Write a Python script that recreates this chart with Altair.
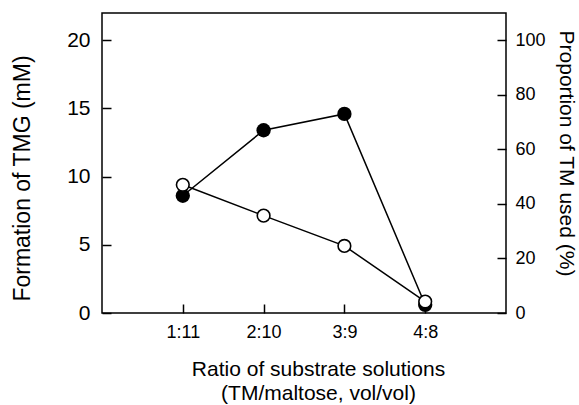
import altair as alt
import pandas as pd

ratios = ["1:11", "2:10", "3:9", "4:8"]
tmg_mM = [8.6, 13.4, 14.6, 0.6]
tm_used_pct = [47.0, 35.7, 24.6, 4.2]

pos = list(range(1, len(ratios) + 1))
df = pd.DataFrame({"pos": pos, "ratio": ratios, "tmg": tmg_mM, "prop": tm_used_pct})

label_expr = "[" + ",".join("'" + r + "'" for r in ratios) + "][datum.value - 1]"
FONT = "Liberation Sans"

x = alt.X(
    "pos:Q",
    scale=alt.Scale(domain=[0, 5], nice=False, zero=False),
    axis=alt.Axis(
        values=pos, labelExpr=label_expr, grid=False, domain=False,
        offset=-9, tickSize=9, tickWidth=1.5, tickColor="black",
        labelPadding=10, labelFontSize=18, labelFont=FONT, labelColor="black",
        title=["Ratio of substrate solutions", "(TM/maltose, vol/vol)"],
        titleFontSize=21, titleFont=FONT, titleFontWeight="normal", titleColor="black",
        titleX=216, titleY=54, titleLineHeight=24,
    ),
)

y_left = alt.Y(
    "tmg:Q",
    scale=alt.Scale(domain=[0, 22], nice=False),
    axis=alt.Axis(
        orient="left", values=[0, 5, 10, 15, 20], grid=False, domain=False,
        offset=-9, tickSize=9, tickWidth=1.5, tickColor="black",
        labelPadding=12, labelFontSize=21, labelFont=FONT, labelColor="black",
        title="Formation of TMG (mM)", titleFontSize=23, titleFont=FONT,
        titleFontWeight="normal", titleColor="black", titleX=-77, titleY=165,
    ),
)

y_right = alt.Y(
    "prop:Q",
    scale=alt.Scale(domain=[0, 110], nice=False),
    axis=alt.Axis(
        orient="right", values=[0, 20, 40, 60, 80, 100], grid=False, domain=False,
        offset=-9, tickSize=9, tickWidth=1.5, tickColor="black",
        labelPadding=9, labelFontSize=18, labelFont=FONT, labelColor="black",
        title="Proportion of TM used (%)", titleFontSize=21, titleFont=FONT,
        titleFontWeight="normal", titleColor="black", titleX=58, titleY=140,
    ),
)

base = alt.Chart(df)
filled_line = base.mark_line(color="black", strokeWidth=1.5).encode(x=x, y=y_left)
filled_pts = base.mark_point(filled=True, color="black", size=205, opacity=1).encode(x=x, y=y_left)
left = alt.layer(filled_line, filled_pts)

open_line = base.mark_line(color="black", strokeWidth=1.5).encode(x=x, y=y_right)
open_pts = base.mark_point(filled=True, fill="white", stroke="black", strokeWidth=1.6,
                           size=160, opacity=1).encode(x=x, y=y_right)
right = alt.layer(open_line, open_pts)

chart = (
    alt.layer(left, right)
    .resolve_scale(y="independent")
    .properties(
        width=404, height=300, autosize="none",
        padding={"left": 102, "top": 13, "right": 73, "bottom": 92},
        background="white",
    )
    .configure_view(stroke="black", strokeWidth=1.5)
)

chart.save("out.html", embed_options={"renderer": "svg", "actions": False})
